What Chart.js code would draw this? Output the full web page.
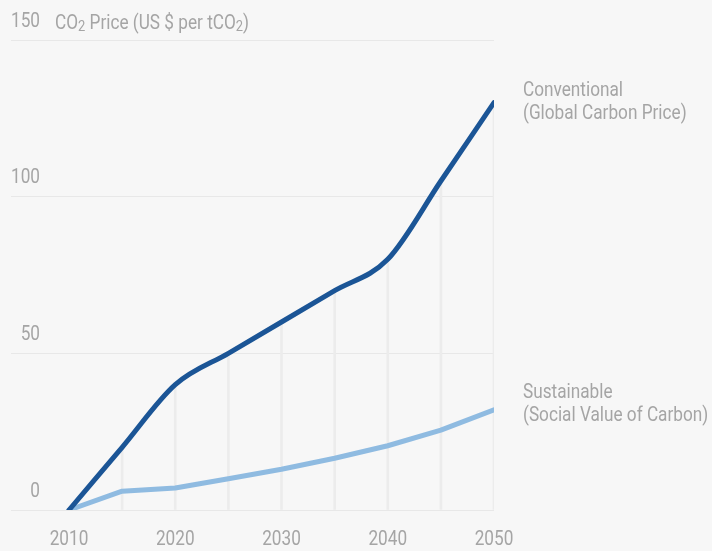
<!DOCTYPE html>
<html>
<head>
<meta charset="utf-8">
<script src="https://cdn.jsdelivr.net/npm/chart.js@4"></script>
<style>
  body { margin: 0; background: #f7f7f7; }
  #wrap { position: relative; width: 712px; height: 551px; }
  .lbl {
    position: absolute;
    font-family: 'Roboto', sans-serif;
    font-size: 20px;
    line-height: 23px;
    color: #a5a5a5;
    white-space: nowrap;
    transform: scaleX(0.86);
    transform-origin: 0 0;
  }
  .lbl .s { font-size: 15px; vertical-align: -2px; }
</style>
</head>
<body>
<div id="wrap">
  <canvas id="chart" width="712" height="551"></canvas>
  <div class="lbl" style="left:55px; top:12px; line-height:20px;">CO<span class="s">2</span> Price (US $ per tCO<span class="s">2</span>)</div>
  <div class="lbl" style="left:523px; top:78px;">Conventional<br>(Global Carbon Price)</div>
  <div class="lbl" style="left:523px; top:380px;">Sustainable<br>(Social Value of Carbon)</div>
</div>
<script>
// values (US $ per tCO2)
const years = [2010, 2015, 2020, 2025, 2030, 2035, 2040, 2045, 2050];
const conventional = [0, 20, 40, 50, 60, 70, 80, 105, 130];
const sustainable = [0, 6, 7, 10, 13, 16.5, 20.5, 25.5, 32];

const xTicks = [2010, 2020, 2030, 2040, 2050];
const yTicks = [0, 50, 100, 150];

const textGray = '#a5a5a5';
const fontFamily = "'Roboto', sans-serif";
const squeeze = 0.86; // the original uses a condensed face

function points(vals) {
  return years.map((y, i) => ({ x: y, y: vals[i] }));
}

function narrowText(ctx, txt, x, y, align) {
  ctx.save();
  ctx.translate(x, y);
  ctx.scale(squeeze, 1);
  ctx.textAlign = align;
  ctx.fillText(txt, 0, 0);
  ctx.restore();
}

// tick labels: y labels sit above their gridline, right aligned
const tickLabelPlugin = {
  id: 'tickLabels',
  afterDraw(chart) {
    const ctx = chart.ctx;
    const xs = chart.scales.x;
    const ys = chart.scales.y;
    ctx.save();
    ctx.font = '20px ' + fontFamily;
    ctx.fillStyle = textGray;
    ctx.textBaseline = 'middle';
    yTicks.forEach(v => {
      narrowText(ctx, String(v), 40, ys.getPixelForValue(v) - 18.5, 'right');
    });
    xTicks.forEach(v => {
      narrowText(ctx, String(v), xs.getPixelForValue(v), ys.bottom + 30, 'center');
    });
    ctx.restore();
  }
};

new Chart(document.getElementById('chart'), {
  type: 'line',
  data: {
    datasets: [
      {
        label: 'Conventional (Global Carbon Price)',
        data: points(conventional),
        borderColor: '#1b5596',
        borderWidth: 5,
        borderCapStyle: 'round',
        borderJoinStyle: 'round',
        pointRadius: 0,
        cubicInterpolationMode: 'monotone',
        order: 1
      },
      {
        label: 'Sustainable (Social Value of Carbon)',
        data: points(sustainable),
        borderColor: '#8fbbe1',
        borderWidth: 5,
        borderCapStyle: 'round',
        borderJoinStyle: 'round',
        pointRadius: 0,
        tension: 0,
        order: 2
      },
      {
        // drop lines under the conventional curve
        type: 'bar',
        data: points(conventional),
        backgroundColor: '#ececec',
        barThickness: 2,
        order: 3
      }
    ]
  },
  options: {
    responsive: false,
    animation: false,
    layout: { padding: { left: 11, right: 218, top: 40, bottom: 0 } },
    plugins: { legend: { display: false }, tooltip: { enabled: false } },
    scales: {
      x: {
        type: 'linear',
        min: 2004.54,
        max: 2050,
        offset: false,
        grid: { display: false, drawTicks: false },
        border: { display: false },
        afterBuildTicks: s => { s.ticks = xTicks.map(v => ({ value: v })); },
        afterFit: s => { s.height = 41; },
        ticks: { display: false }
      },
      y: {
        min: 0,
        max: 150,
        grid: { color: '#e8e8e8', lineWidth: 1, drawTicks: false },
        border: { display: false },
        afterBuildTicks: s => { s.ticks = yTicks.map(v => ({ value: v })); },
        afterFit: s => { s.width = 0; },
        ticks: { display: false }
      }
    }
  },
  plugins: [tickLabelPlugin]
});
</script>
</body>
</html>
